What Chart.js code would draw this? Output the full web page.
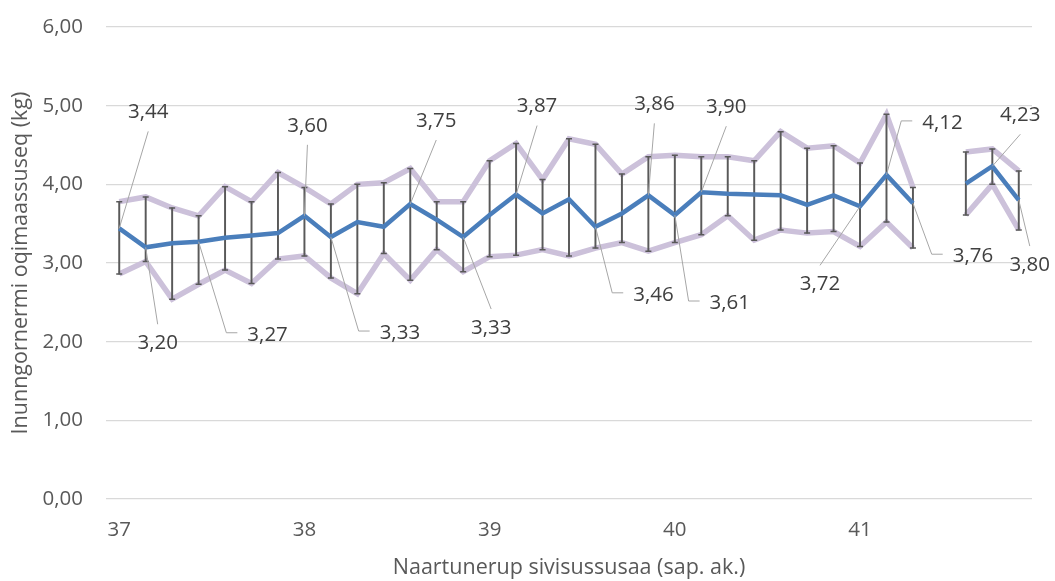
<!DOCTYPE html>
<html lang="kl">
  <head>
    <meta charset="UTF-8" />
    <title>Inunngornermi oqimaassuseq</title>
    <script src="https://cdn.jsdelivr.net/npm/chart.js"></script>
    <style>
      body { margin: 0; background: #fff; }
      .wrap { width: 1055px; height: 581px; }
    </style>
  </head>
  <body>
    <div class="wrap"><canvas id="weightChart"></canvas></div>

    <script>
      // weeks + days of pregnancy
      const categories = [
        "37+0", "37+1", "37+2", "37+3", "37+4", "37+5", "37+6",
        "38+0", "38+1", "38+2", "38+3", "38+4", "38+5", "38+6",
        "39+0", "39+1", "39+2", "39+3", "39+4", "39+5", "39+6",
        "40+0", "40+1", "40+2", "40+3", "40+4", "40+5", "40+6",
        "41+0", "41+1", "41+2", "41+3", "41+4", "41+5", "41+6",
      ];

      const mean = [
        3.44, 3.20, 3.25, 3.27, 3.32, 3.35, 3.38,
        3.60, 3.33, 3.52, 3.46, 3.75, 3.55, 3.33,
        3.61, 3.87, 3.63, 3.81, 3.46, 3.63, 3.86,
        3.61, 3.90, 3.88, 3.87, 3.86, 3.74, 3.86,
        3.72, 4.12, 3.76, null, 4.01, 4.23, 3.80,
      ];

      const upper = [
        3.78, 3.84, 3.70, 3.60, 3.97, 3.78, 4.15,
        3.96, 3.75, 4.00, 4.02, 4.20, 3.78, 3.78,
        4.30, 4.52, 4.06, 4.58, 4.51, 4.13, 4.35,
        4.37, 4.35, 4.35, 4.30, 4.67, 4.46, 4.49,
        4.27, 4.89, 3.96, null, 4.41, 4.45, 4.17,
      ];

      const lower = [
        2.86, 3.02, 2.54, 2.73, 2.91, 2.74, 3.05,
        3.09, 2.81, 2.61, 3.12, 2.78, 3.17, 2.89,
        3.08, 3.10, 3.17, 3.09, 3.19, 3.26, 3.15,
        3.26, 3.36, 3.60, 3.29, 3.42, 3.38, 3.40,
        3.21, 3.52, 3.19, null, 3.61, 4.00, 3.42,
      ];

      // which mean points get a value label, and where it sits
      const labelSpots = [
        { i: 0, dx: 29, dy: -116, side: "up" },
        { i: 1, dx: 12, dy: 96, side: "down" },
        { i: 3, dx: 69, dy: 93, side: "elbow" },
        { i: 7, dx: 3, dy: -90, side: "up" },
        { i: 8, dx: 69, dy: 96, side: "elbow" },
        { i: 11, dx: 26, dy: -83, side: "up" },
        { i: 13, dx: 28, dy: 91, side: "down" },
        { i: 15, dx: 21, dy: -88, side: "up" },
        { i: 18, dx: 58, dy: 68, side: "elbow" },
        { i: 20, dx: 6, dy: -91, side: "up" },
        { i: 21, dx: 55, dy: 88, side: "elbow" },
        { i: 22, dx: 25, dy: -85, side: "up" },
        { i: 28, dx: -40, dy: 78, side: "down" },
        { i: 29, dx: 56, dy: -52, side: "elbow" },
        { i: 30, dx: 60, dy: 53, side: "elbow" },
        { i: 33, dx: 28, dy: -51, side: "up" },
        { i: 34, dx: 11, dy: 65, side: "down" },
      ];

      const FONT = '"Open Sans", sans-serif';
      const fmt = (v) => v.toFixed(2).replace(".", ",");

      const valueLabels = {
        id: "valueLabels",
        afterDatasetsDraw(chart) {
          const meta = chart.getDatasetMeta(0);
          const ctx = chart.ctx;
          ctx.save();
          ctx.font = "20.5px " + FONT;
          ctx.fillStyle = "#404040";
          ctx.textAlign = "center";
          ctx.textBaseline = "middle";
          ctx.strokeStyle = "#a6a6a6";
          ctx.lineWidth = 1;
          labelSpots.forEach((s) => {
            const pt = meta.data[s.i];
            const cx = pt.x + s.dx;
            const cy = pt.y + s.dy;
            const text = fmt(mean[s.i]);
            const w = ctx.measureText(text).width;
            ctx.beginPath();
            ctx.moveTo(pt.x, pt.y);
            if (s.side === "elbow") {
              const ex = cx - w / 2 - 10;
              ctx.lineTo(ex - 11, cy - 2);
              ctx.lineTo(ex, cy - 2);
            } else if (s.side === "up") {
              ctx.lineTo(cx, cy + 19);
            } else {
              ctx.lineTo(cx, cy - 19);
            }
            ctx.stroke();
            ctx.fillText(text, cx, cy);
          });
          ctx.restore();
        },
      };

      const bandStyle = {
        type: "line",
        borderColor: "#ccc1da",
        borderWidth: 5.5,
        pointStyle: "line",
        pointRadius: 3,
        pointBorderColor: "#595959",
        pointBorderWidth: 1.5,
        pointHoverRadius: 3,
        tension: 0,
        spanGaps: false,
      };

      const ctx = document.getElementById("weightChart").getContext("2d");
      new Chart(ctx, {
        data: {
          labels: categories,
          datasets: [
            {
              type: "line",
              label: "Agguaqatigiissillugu",
              data: mean,
              borderColor: "#4a7ebb",
              borderWidth: 4.5,
              pointRadius: 0,
              tension: 0,
              spanGaps: false,
              order: 0,
            },
            {
              type: "bar",
              label: "high-low",
              data: lower.map((l, i) => (l == null ? null : [l, upper[i]])),
              backgroundColor: "#595959",
              barThickness: 1.3,
              order: 1,
            },
            { ...bandStyle, label: "Qaffasinnerpaaq", data: upper, order: 2 },
            { ...bandStyle, label: "Appasinnerpaaq", data: lower, order: 3 },
          ],
        },
        options: {
          responsive: true,
          maintainAspectRatio: false,
          animation: false,
          layout: { padding: { top: 27, right: 23, bottom: 0, left: 8 } },
          plugins: {
            legend: { display: false },
            tooltip: { enabled: false },
          },
          scales: {
            x: {
              type: "category",
              offset: true,
              grid: { display: false, drawTicks: false },
              border: { display: false },
              afterFit: (scale) => {
                scale.height = 82;
                scale.paddingLeft = 0;
                scale.paddingRight = 0;
              },
              ticks: {
                autoSkip: false,
                maxRotation: 0,
                padding: 18.5,
                color: "#595959",
                font: { family: FONT, size: 20.5 },
                callback: function (value) {
                  const lab = this.getLabelForValue(value);
                  const parts = lab.split("+");
                  return parts[1] === "0" ? parts[0] : "";
                },
              },
              title: {
                display: true,
                text: "Naartunerup sivisussusaa (sap. ak.)",
                color: "#595959",
                font: { family: FONT, size: 21.5 },
                padding: { top: 0, bottom: 0 },
              },
            },
            y: {
              min: 0,
              max: 6,
              grid: { color: "#d9d9d9", lineWidth: 1.3, drawTicks: false },
              border: { display: false },
              afterFit: (scale) => {
                scale.width = 98;
                scale.paddingTop = 0;
                scale.paddingBottom = 0;
              },
              ticks: {
                stepSize: 1,
                padding: 23,
                color: "#595959",
                font: { family: FONT, size: 20.5 },
                callback: (v) => fmt(v),
              },
              title: {
                display: true,
                text: "Inunngornermi oqimaassuseq (kg)",
                color: "#595959",
                font: { family: FONT, size: 21.5 },
                padding: { top: 0, bottom: 8 },
              },
            },
          },
        },
        plugins: [valueLabels],
      });
    </script>
  </body>
</html>
